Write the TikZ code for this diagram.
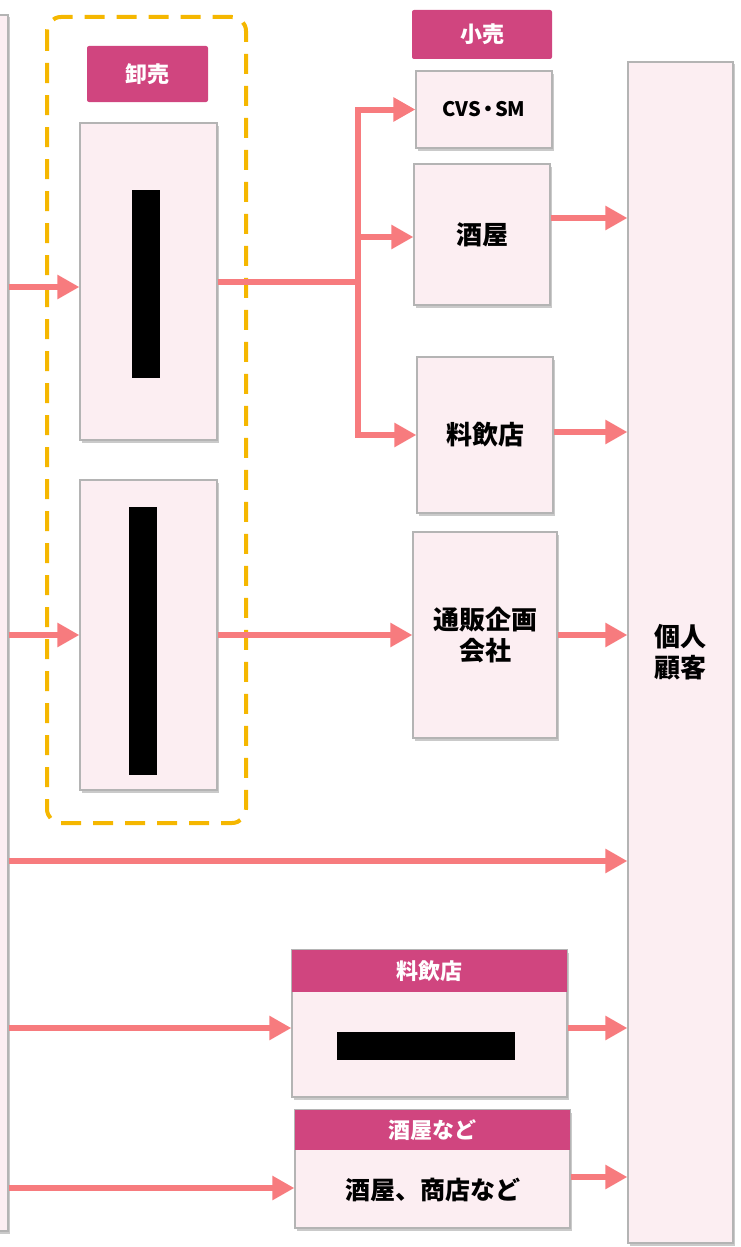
\documentclass[tikz,border=0pt]{standalone}
\usepackage{fontspec}
\setmainfont{Noto Sans CJK JP}
\usetikzlibrary{arrows.meta,shadows}
\definecolor{boxfill}{HTML}{FCEEF2}
\definecolor{boxline}{HTML}{B4B4B4}
\definecolor{hdr}{HTML}{D0457F}
\definecolor{arrc}{HTML}{F77B7E}
\definecolor{dashc}{HTML}{F5B700}
\tikzset{
  pbox/.style={draw=boxline, line width=1.2pt, fill=boxfill, inner sep=0pt, font=\bfseries\fontsize{26}{31}\selectfont, align=center,
    drop shadow={shadow xshift=1.5pt, shadow yshift=-2.5pt, fill=black!35, opacity=0.6}},
  hbox/.style={fill=hdr, rounded corners=2pt, inner sep=0pt, text=white, font=\bfseries\fontsize{22}{26}\selectfont},
  btxt/.style={inner sep=0pt, font=\bfseries\fontsize{25}{30}\selectfont},
  arr/.style={draw=arrc, line width=6pt, -{Triangle[length=22pt,width=23pt]}},
  ln/.style={draw=arrc, line width=6pt},
  bar/.style={fill=black, inner sep=0pt},
}
\begin{document}
\begin{tikzpicture}[x=1pt,y=-1pt]
\useasboundingbox (0,0) rectangle (741,1247);
% left source box (partially visible)
\node[pbox, minimum width=40pt, minimum height=1216pt] (src) at (-12,623) {};
% dashed wholesale group
\draw[dashc, line width=4pt, dash pattern=on 20pt off 12pt, rounded corners=14pt] (47,17) rectangle (246,823);
\node[hbox, minimum width=121pt, minimum height=56pt] (wh) at (147.5,74) {卸売};
\node[pbox, minimum width=137pt, minimum height=317pt] (w1) at (148.5,281.5) {};
\node[bar, minimum width=28pt, minimum height=188pt] (b1) at (146,284) {};
\node[pbox, minimum width=137pt, minimum height=310pt] (w2) at (148.5,635) {};
\node[bar, minimum width=28pt, minimum height=268pt] (b2) at (143,641) {};
% retail
\node[hbox, minimum width=140pt, minimum height=49pt] (rt) at (482,34.5) {小売};
\node[pbox, minimum width=136pt, minimum height=77pt, font=\bfseries\fontsize{20}{24}\selectfont] (cvs) at (484,109.5) {CVS\kern-3pt・\kern-3ptSM};
\node[pbox, minimum width=136pt, minimum height=141pt] (saka) at (482,234.5) {酒屋};
\node[pbox, minimum width=136pt, minimum height=156pt] (ryo) at (485,435) {料飲店};
\node[pbox, minimum width=144pt, minimum height=206pt] (tsu) at (485,635) {通販企画\\会社};
% customer
\node[pbox, minimum width=105pt, minimum height=1181pt] (kojin) at (680.5,652.5) {個人\\顧客};
% bottom boxes
\node[pbox, minimum width=275pt, minimum height=147pt] (ryob) at (429.5,1023.5) {};
\node[hbox, rounded corners=0pt, minimum width=275pt, minimum height=42pt] (ryobh) at (429.5,971) {料飲店};
\node[bar, minimum width=178pt, minimum height=28pt] (b3) at (426,1046) {};
\node[pbox, minimum width=275pt, minimum height=118pt] (sakb) at (432.5,1169) {};
\node[hbox, rounded corners=0pt, minimum width=275pt, minimum height=40pt] (sakbh) at (432.5,1130) {酒屋など};
\node[btxt] (sakbt) at (432.5,1190) {酒屋、商店など};
% connectors
\coordinate (br) at (358,282);
\draw[arr] (src.east |- 0,287) -- (w1.west |- 0,287);
\draw[ln] (w1.east |- br) -- (br);
\draw[ln, line cap=rect] (br |- cvs.west) -- (br |- ryo.west);
\draw[arr] (br |- cvs.west) -- (cvs.west);
\draw[arr] (br |- 0,237) -- (saka.west |- 0,237);
\draw[arr] (br |- ryo.west) -- (ryo.west);
\draw[arr] (saka.east |- 0,218) -- (kojin.west |- 0,218);
\draw[arr] (ryo.east |- 0,432) -- (kojin.west |- 0,432);
\draw[arr] (src.east |- w2.west) -- (w2.west);
\draw[arr] (w2.east) -- (tsu.west |- w2.east);
\draw[arr] (tsu.east) -- (kojin.west |- tsu.east);
\draw[arr] (src.east |- 0,861) -- (kojin.west |- 0,861);
\draw[arr] (src.east |- 0,1028) -- (ryob.west |- 0,1028);
\draw[arr] (ryob.east |- 0,1028) -- (kojin.west |- 0,1028);
\draw[arr] (src.east |- 0,1188) -- (sakb.west |- 0,1188);
\draw[arr] (sakb.east |- 0,1177) -- (kojin.west |- 0,1177);
\end{tikzpicture}
\end{document}
